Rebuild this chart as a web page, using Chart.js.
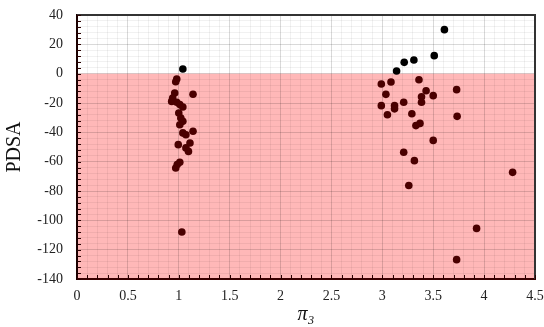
<!DOCTYPE html>
<html>
<head>
<meta charset="utf-8">
<script src="https://cdn.jsdelivr.net/npm/chart.js@4.4.0/dist/chart.umd.min.js"></script>
<style>
  html, body { margin: 0; padding: 0; background: #fff; }
  #wrap { width: 544px; height: 327px; }
</style>
</head>
<body>
<div id="wrap"><canvas id="chart"></canvas></div>
<script>
// tick labels
const xLabels = [0, 0.5, 1, 1.5, 2, 2.5, 3, 3.5, 4, 4.5];
const yLabels = [-140, -120, -100, -80, -60, -40, -20, 0, 20, 40];

// points above zero (black)
const posX = [1.04, 3.14, 3.215, 3.31, 3.51, 3.61];
const posY = [3.2, 1.8, 7.7, 9.3, 12.3, 30.0];

// points below zero (dark red)
const negX = [0.98, 0.97, 1.14, 0.96, 0.94, 0.93, 0.98, 1.01, 1.04, 1.0, 1.02, 1.04, 1.01, 1.04, 1.14, 1.07,
              0.995, 1.11, 1.07, 1.095, 1.01, 0.985, 0.97, 1.03,
              2.99, 3.085, 3.36, 3.73, 3.035, 3.43, 3.385, 3.50, 2.99, 3.12, 3.12, 3.21, 3.385, 3.05, 3.29,
              3.735, 3.37, 3.33, 3.50, 3.21, 3.315, 3.26, 4.28, 3.926, 3.73];
const negY = [-3.6, -5.5, -14.0, -13.2, -16.6, -18.9, -19.5, -21.0, -22.7, -26.8, -30.2, -32.5, -34.8, -40.4, -39.3, -41.6,
              -48.4, -47.3, -50.6, -53.0, -60.4, -62.0, -64.3, -108.0,
              -7.0, -5.7, -4.1, -10.9, -14.1, -11.6, -15.7, -15.0, -21.8, -21.8, -24.0, -19.5, -19.5, -28.0, -27.3,
              -29.1, -33.9, -35.4, -45.5, -53.6, -59.3, -76.3, -67.3, -105.5, -126.8];

const dangerTop = 0; // pink band from here down

const toPoints = (xs, ys) => xs.map((x, i) => ({ x, y: ys[i] }));
const isMajor = (v, step) => Math.abs(v / step - Math.round(v / step)) < 1e-6;
const serif = "'Liberation Serif', 'DejaVu Serif', serif";

const zonePlugin = {
  id: 'zone',
  beforeDraw(chart) {
    const { ctx, chartArea: a, scales: { y } } = chart;
    const y0 = y.getPixelForValue(dangerTop);
    ctx.save();
    ctx.fillStyle = '#ffb8b8';
    ctx.fillRect(a.left, y0, a.right - a.left, a.bottom - y0);
    ctx.restore();
  },
  afterDraw(chart) {
    const { ctx, chartArea: a, scales: { x, y } } = chart;
    ctx.save();
    // top + right frame
    ctx.lineWidth = 2;
    ctx.strokeStyle = '#333';
    ctx.beginPath();
    ctx.moveTo(a.left, a.top);
    ctx.lineTo(a.right, a.top);
    ctx.lineTo(a.right, a.bottom);
    ctx.stroke();
    // small ticks pointing inward
    ctx.lineWidth = 1;
    ctx.strokeStyle = '#2a0000';
    ctx.beginPath();
    x.ticks.forEach(t => {
      const px = Math.round(x.getPixelForValue(t.value)) + 0.5;
      ctx.moveTo(px, a.bottom);
      ctx.lineTo(px, a.bottom - 4);
    });
    y.ticks.forEach(t => {
      const py = Math.round(y.getPixelForValue(t.value)) + 0.5;
      ctx.moveTo(a.left, py);
      ctx.lineTo(a.left + 4, py);
    });
    ctx.stroke();
    ctx.restore();
  }
};

new Chart(document.getElementById('chart'), {
  type: 'scatter',
  data: {
    datasets: [
      {
        label: 'below',
        data: toPoints(negX, negY),
        backgroundColor: '#4a0000',
        borderColor: '#4a0000',
        borderWidth: 0,
        pointRadius: 3.8
      },
      {
        label: 'above',
        data: toPoints(posX, posY),
        backgroundColor: '#000',
        borderColor: '#000',
        borderWidth: 0,
        pointRadius: 3.8
      }
    ]
  },
  options: {
    responsive: true,
    maintainAspectRatio: false,
    animation: false,
    layout: { padding: 0 },
    plugins: { legend: { display: false }, tooltip: { enabled: false } },
    scales: {
      x: {
        type: 'linear',
        min: 0, max: 4.5,
        afterFit: s => { s.height = 48; s.paddingLeft = 0; s.paddingRight = 9; },
        ticks: {
          stepSize: 0.1,
          autoSkip: false,
          maxRotation: 0,
          padding: 9,
          color: '#222',
          font: { family: serif, size: 14 },
          callback: v => {
            const hit = xLabels.find(l => Math.abs(l - v) < 1e-6);
            return hit === undefined ? '' : String(hit);
          }
        },
        grid: {
          drawTicks: false,
          color: c => isMajor(c.tick.value, 0.5) ? 'rgba(0,0,0,0.15)' : 'rgba(0,0,0,0.055)',
          lineWidth: 1
        },
        border: { color: '#3a0000', width: 2 },
        title: {
          display: true,
          text: 'π₃',
          color: '#111',
          padding: { top: 0, bottom: 0 },
          font: { family: serif, size: 20, style: 'italic' }
        }
      },
      y: {
        min: -140, max: 40,
        afterFit: s => { s.width = 77; s.paddingTop = 15; s.paddingBottom = 0; },
        ticks: {
          stepSize: 4,
          autoSkip: false,
          padding: 14,
          color: '#222',
          font: { family: serif, size: 14 },
          callback: v => {
            const hit = yLabels.find(l => Math.abs(l - v) < 1e-6);
            return hit === undefined ? '' : String(hit);
          }
        },
        grid: {
          drawTicks: false,
          color: c => isMajor(c.tick.value, 20) ? 'rgba(0,0,0,0.15)' : 'rgba(0,0,0,0.055)',
          lineWidth: 1
        },
        border: { color: '#1a0000', width: 2 },
        title: {
          display: true,
          text: 'PDSA',
          color: '#111',
          padding: { top: 3, bottom: 0 },
          font: { family: serif, size: 20 }
        }
      }
    }
  },
  plugins: [zonePlugin]
});
</script>
</body>
</html>
